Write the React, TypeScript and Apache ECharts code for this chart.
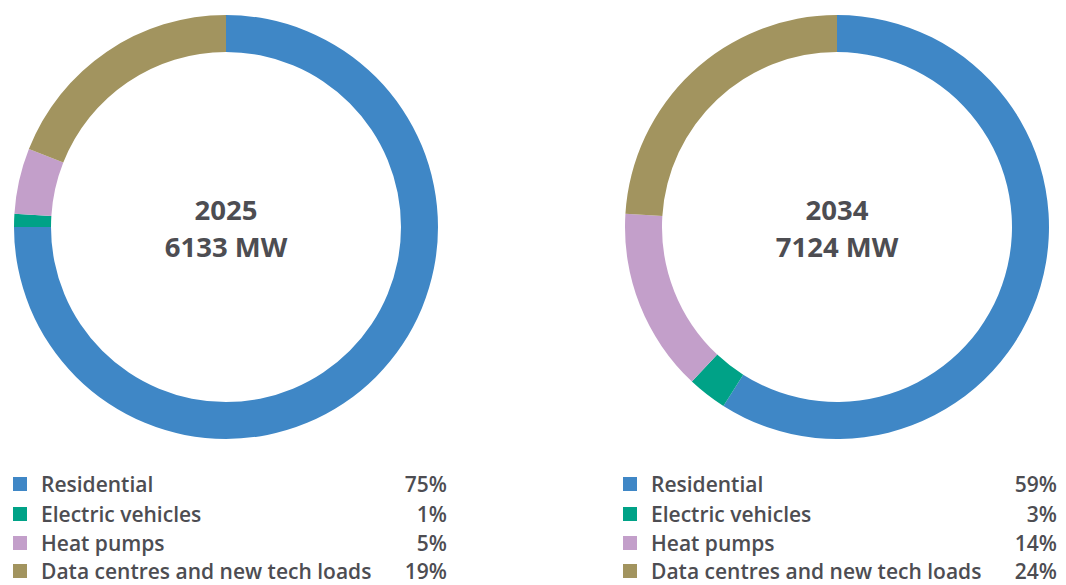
import React, { useEffect, useRef } from "react";
import * as echarts from "echarts";

const categories = ["Residential", "Electric vehicles", "Heat pumps", "Data centres and new tech loads"];
const colors = ["#3f87c6", "#00a287", "#c39fca", "#a2945f"];
const years = ["2025", "2034"];
const totalsMW = [6133, 7124];
const shares2025 = [75, 1, 5, 19];
const shares2034 = [59, 3, 14, 24];

export default function App() {
  const ref = useRef<HTMLDivElement>(null);
  useEffect(() => {
    if (!ref.current) return;
    const chart = echarts.init(ref.current, null, { renderer: "svg" });
    const panels = [
      { cx: 226, legendX: 13, pctX: 447, shares: shares2025, year: years[0], total: totalsMW[0] },
      { cx: 837, legendX: 623, pctX: 1057, shares: shares2034, year: years[1], total: totalsMW[1] },
    ];
    const cy = 227;
    const textColor = "#4d4d52";
    const series: any[] = panels.map((p) => ({
      type: "pie",
      center: [p.cx, cy],
      radius: [175, 212],
      startAngle: 90,
      clockwise: true,
      label: { show: false },
      labelLine: { show: false },
      emphasis: { disabled: true },
      silent: true,
      data: categories.map((c, i) => ({ name: c, value: p.shares[i], itemStyle: { color: colors[i] } })),
    }));
    const graphic: any[] = [];
    const rowY = [484, 514, 543, 571];
    const legendFont = { fontFamily: "Open Sans", fontWeight: 600, fontSize: 21 };
    panels.forEach((p) => {
      graphic.push({
        type: "text",
        x: p.cx,
        y: 209,
        style: {
          text: p.year,
          fontFamily: "Open Sans",
          fontWeight: "bold",
          fontSize: 27.5,
          fill: textColor,
          align: "center",
          verticalAlign: "middle",
        },
      });
      graphic.push({
        type: "text",
        x: p.cx,
        y: 246,
        style: {
          text: `${p.total} MW`,
          fontFamily: "Open Sans",
          fontWeight: "bold",
          fontSize: 27.5,
          fill: textColor,
          align: "center",
          verticalAlign: "middle",
        },
      });
      categories.forEach((c, i) => {
        graphic.push({
          type: "rect",
          shape: { x: p.legendX, y: rowY[i] - 7, width: 14, height: 14 },
          style: { fill: colors[i] },
        });
        graphic.push({
          type: "text",
          x: p.legendX + 28,
          y: rowY[i],
          style: {
            text: c,
            ...legendFont,
            fill: textColor,
            align: "left",
            verticalAlign: "middle",
          },
        });
        graphic.push({
          type: "text",
          x: p.pctX,
          y: rowY[i],
          style: {
            text: `${p.shares[i]}%`,
            ...legendFont,
            fill: textColor,
            align: "right",
            verticalAlign: "middle",
          },
        });
      });
    });
    chart.setOption({
      animation: false,
      backgroundColor: "#ffffff",
      series,
      graphic,
    });
    return () => chart.dispose();
  }, []);
  return (
    <div
      ref={ref}
      style={{ position: "absolute", left: 0, top: 0, width: 1066, height: 585 }}
    />
  );
}
